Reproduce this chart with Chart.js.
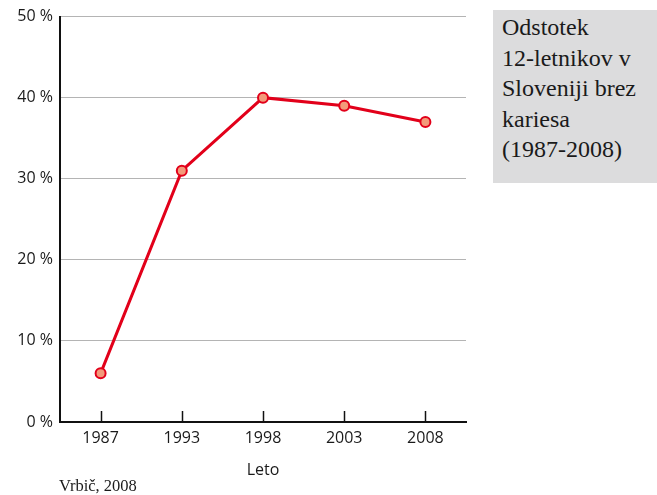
<!DOCTYPE html>
<html>
<head>
<meta charset="utf-8">
<script src="https://cdn.jsdelivr.net/npm/chart.js@4"></script>
<style>
  body { margin: 0; background: #fff; }
  #wrap { position: relative; width: 657px; height: 495px; }
  #box {
    position: absolute; left: 493px; top: 10px; width: 164px; height: 173px;
    background: #dcdcdd; box-sizing: border-box; padding: 2px 0 0 9px;
    font-family: "Liberation Serif", serif; font-size: 24px; line-height: 30.5px; color: #1a1a1a;
  }
  #src {
    position: absolute; left: 59px; top: 476px;
    font-family: "Liberation Serif", serif; font-size: 16.5px; color: #1a1a1a;
  }
</style>
</head>
<body>
<div id="wrap">
  <canvas id="chart" width="657" height="495"></canvas>
  <div id="box">Odstotek<br>12-letnikov v<br>Sloveniji brez<br>kariesa<br>(1987-2008)</div>
  <div id="src">Vrbič, 2008</div>
</div>
<script>
const years = ['1987', '1993', '1998', '2003', '2008'];
const percent = [6, 31, 40, 39, 37];
const yTicks = [0, 10, 20, 30, 40, 50];

// small tick marks standing up from the x axis
const innerTicks = {
  id: 'innerTicks',
  afterDraw(chart) {
    const x = chart.scales.x, bottom = chart.chartArea.bottom;
    const c = chart.ctx;
    c.save();
    c.strokeStyle = '#111';
    c.lineWidth = 1.5;
    years.forEach((y, i) => {
      const px = Math.round(x.getPixelForValue(i)) + 0.5;
      c.beginPath();
      c.moveTo(px, bottom);
      c.lineTo(px, bottom - 11);
      c.stroke();
    });
    c.restore();
  }
};

new Chart(document.getElementById('chart').getContext('2d'), {
  type: 'line',
  data: {
    labels: years,
    datasets: [{
      data: percent,
      borderColor: '#e2001a',
      borderWidth: 3,
      pointRadius: 5,
      pointBorderWidth: 2,
      pointBackgroundColor: '#f39a7a',
      pointBorderColor: '#e2001a',
      tension: 0
    }]
  },
  options: {
    responsive: false,
    animation: false,
    layout: { padding: { top: 15, right: 191, left: 0, bottom: 0 } },
    plugins: { legend: { display: false }, tooltip: { enabled: false } },
    scales: {
      x: {
        offset: true,
        afterFit: s => { s.height = 73; },
        grid: { display: true, drawOnChartArea: false, drawTicks: false },
        border: { color: '#111', width: 2 },
        ticks: { padding: 7, color: '#1a1a1a', font: { family: 'Open Sans', size: 16 } },
        title: { display: true, text: 'Leto', color: '#1a1a1a', padding: { top: 4, bottom: 15 },
                 font: { family: 'Open Sans', size: 16 } }
      },
      y: {
        min: 0, max: 50,
        afterFit: s => { s.width = 60; },
        afterBuildTicks: s => { s.ticks = yTicks.map(v => ({ value: v })); },
        grid: { color: '#b4b4b4', lineWidth: 1, drawTicks: false },
        border: { color: '#111', width: 2 },
        ticks: { padding: 7, color: '#1a1a1a', font: { family: 'Open Sans', size: 16 },
                 callback: v => v + ' %' }
      }
    }
  },
  plugins: [innerTicks]
});
</script>
</body>
</html>
